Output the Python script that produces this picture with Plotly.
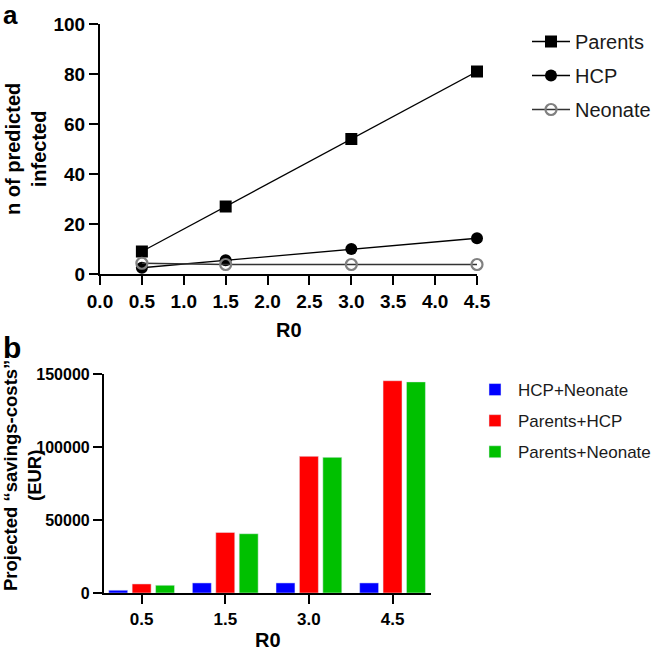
import plotly.graph_objects as go

W, H = 657, 650

# ---- data: panel a ----
r0_values = [0.5, 1.5, 3.0, 4.5]
parents_infected = [9, 27, 54, 81]
hcp_infected = [2.5, 5.5, 10, 14.3]
neonate_infected = [4.3, 3.8, 3.8, 3.8]

# ---- data: panel b ----
r0_labels = ["0.5", "1.5", "3.0", "4.5"]
hcp_neonate = [1900, 6900, 6900, 6900]
parents_hcp = [6200, 41500, 93600, 145400]
parents_neonate = [5300, 40600, 92900, 144600]

FONT = "Liberation Sans, Arial, sans-serif"

def px_x(p):
    return p / W

def px_y(p):
    return 1 - p / H

fig = go.Figure()

# panel a
fig.add_trace(go.Scatter(x=r0_values, y=parents_infected, name="Parents", mode="lines+markers",
                         line=dict(color="black", width=1.3),
                         marker=dict(symbol="square", size=12, color="black"),
                         cliponaxis=False, legend="legend", legendgroup="p"))
fig.add_trace(go.Scatter(x=r0_values, y=hcp_infected, name="HCP", mode="lines+markers",
                         line=dict(color="black", width=1.3),
                         marker=dict(symbol="circle", size=12, color="black"),
                         cliponaxis=False, legend="legend", legendgroup="h"))
fig.add_trace(go.Scatter(x=r0_values, y=neonate_infected, name="Neonate", mode="lines+markers",
                         line=dict(color="#333333", width=1.3),
                         marker=dict(symbol="circle-open", size=11, color="#808080",
                                     line=dict(width=2.2, color="#808080")),
                         cliponaxis=False, legend="legend", legendgroup="n"))

# panel b
fig.add_trace(go.Bar(x=r0_labels, y=hcp_neonate, name="HCP+Neonate", marker_color="#0000ff",
                     xaxis="x2", yaxis="y2", legend="legend2", legendgroup="b1"))
fig.add_trace(go.Bar(x=r0_labels, y=parents_hcp, name="Parents+HCP", marker_color="#ff0000",
                     xaxis="x2", yaxis="y2", legend="legend2", legendgroup="b2"))
fig.add_trace(go.Bar(x=r0_labels, y=parents_neonate, name="Parents+Neonate", marker_color="#00c000",
                     xaxis="x2", yaxis="y2", legend="legend2", legendgroup="b3"))

def axis_style(size):
    return dict(showline=True, linecolor="black", linewidth=2.2, ticks="outside",
                ticklen=9, tickwidth=2.2, tickcolor="black", showgrid=False, zeroline=False,
                automargin=False,
                tickfont=dict(family=FONT, size=size, color="black", weight="bold"))

fig.update_layout(
    width=W, height=H,
    margin=dict(l=0, r=0, t=0, b=0),
    paper_bgcolor="white", plot_bgcolor="white",
    font=dict(family=FONT, color="black"),
    barmode="group", bargap=0.16, bargroupgap=0.19,
    xaxis=dict(domain=[px_x(100), px_x(477)], range=[0, 4.5], dtick=0.5, tick0=0,
               tickformat=".1f", anchor="y", **axis_style(19)),
    yaxis=dict(domain=[px_y(274), px_y(24)], range=[0, 100], dtick=20, anchor="x",
               **axis_style(19)),
    xaxis2=dict(domain=[px_x(104), px_x(431)], range=[-0.45, 3.46], type="category", anchor="y2",
                **axis_style(17)),
    yaxis2=dict(domain=[px_y(593), px_y(374)], range=[0, 150000], dtick=50000, tickformat="d",
                anchor="x2", **axis_style(16)),
    legend=dict(x=px_x(527), y=px_y(22), xanchor="left", yanchor="top",
                font=dict(family=FONT, size=20, color="#1a1a1a"),
                traceorder="grouped", tracegroupgap=5, itemwidth=38, bgcolor="rgba(0,0,0,0)"),
    legend2=dict(x=px_x(472), y=px_y(372), xanchor="left", yanchor="top",
                 font=dict(family=FONT, size=17, color="#1a1a1a"),
                 traceorder="grouped", tracegroupgap=6, itemwidth=36, bgcolor="rgba(0,0,0,0)"),
    annotations=[
        dict(text="<b>a</b>", x=px_x(1), y=px_y(-2), xref="paper", yref="paper",
             xanchor="left", yanchor="top", showarrow=False, font=dict(size=26, family=FONT)),
        dict(text="<b>b</b>", x=px_x(1), y=px_y(329), xref="paper", yref="paper",
             xanchor="left", yanchor="top", showarrow=False, font=dict(size=30, family=FONT)),
        dict(text="<b>n of predicted<br>infected</b>", x=px_x(26), y=px_y(149), xref="paper", yref="paper",
             xanchor="center", yanchor="middle", textangle=-90, showarrow=False,
             font=dict(size=20, family=FONT)),
        dict(text="<b>Projected \u201csavings-costs\u201d<br>(EUR)</b>", x=px_x(22), y=px_y(476),
             xref="paper", yref="paper", xanchor="center", yanchor="middle", textangle=-90,
             showarrow=False, font=dict(size=18.5, family=FONT)),
        dict(text="<b>R0</b>", x=px_x(288.5), y=px_y(330), xref="paper", yref="paper",
             xanchor="center", yanchor="middle", showarrow=False, font=dict(size=20, family=FONT)),
        dict(text="<b>R0</b>", x=px_x(268), y=px_y(640), xref="paper", yref="paper",
             xanchor="center", yanchor="middle", showarrow=False, font=dict(size=20, family=FONT)),
    ],
)

fig.write_html("out.html", config={"displayModeBar": False},
               post_script="document.body.style.margin='0';")
